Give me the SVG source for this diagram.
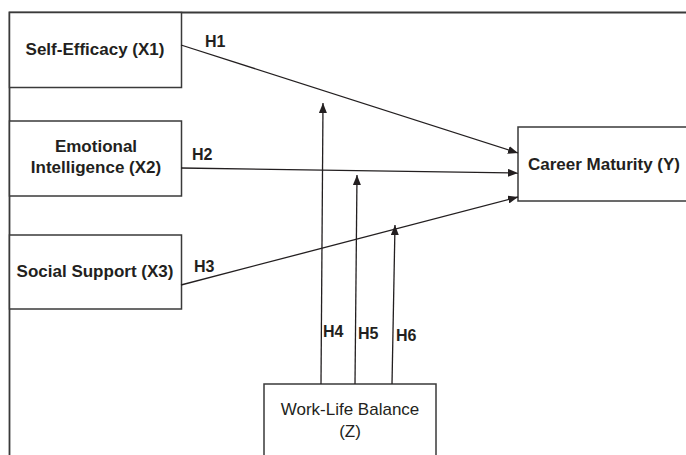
<svg xmlns="http://www.w3.org/2000/svg" width="686" height="455" viewBox="0 0 686 455">
<style>
.box{fill:#fff;stroke:#3a3a3a;stroke-width:1.5}
.frame{fill:none;stroke:#3a3a3a;stroke-width:1.8}
.lbl{font-family:"Liberation Sans",Arial,sans-serif;font-size:17px;font-weight:bold;fill:#231f20;text-anchor:middle}
.reg{font-family:"Liberation Sans",Arial,sans-serif;font-size:17px;fill:#231f20;text-anchor:middle}
.h{font-family:"Liberation Sans",Arial,sans-serif;font-size:16px;font-weight:bold;fill:#231f20}
.con{fill:none;stroke:#231f20;stroke-width:1.3}
</style>
<defs>
<marker id="ah" viewBox="0 0 10 8" refX="10" refY="4" markerWidth="10" markerHeight="8" markerUnits="userSpaceOnUse" orient="auto">
<path d="M0,0 L10,4 L0,8 Z" fill="#231f20"/>
</marker>
</defs>
<rect width="686" height="455" fill="#fff"/>
<path class="frame" d="M9.5,455 V12.5 H686"/>
<g id="x1"><rect class="box" x="9.5" y="12.5" width="172" height="75"/><text class="lbl" x="95" y="55">Self-Efficacy (X1)</text></g>
<g id="x2"><rect class="box" x="9.5" y="121" width="172" height="75"/><text class="lbl" x="96" y="152">Emotional</text><text class="lbl" x="96" y="173">Intelligence (X2)</text></g>
<g id="x3"><rect class="box" x="9.5" y="235" width="172" height="74"/><text class="lbl" x="95" y="277">Social Support (X3)</text></g>
<g id="y"><rect class="box" x="518" y="127" width="170" height="74"/><text class="lbl" x="604" y="170">Career Maturity (Y)</text></g>
<g id="z"><rect class="box" x="264" y="384" width="172" height="80"/><text class="reg" x="350" y="415">Work-Life Balance</text><text class="reg" x="350" y="437">(Z)</text></g>
<g id="connectors">
<line class="con" x1="181" y1="45" x2="518" y2="153" marker-end="url(#ah)"/>
<line class="con" x1="181" y1="168" x2="518" y2="173" marker-end="url(#ah)"/>
<line class="con" x1="181" y1="285" x2="518" y2="197" marker-end="url(#ah)"/>
<line class="con" x1="321" y1="384" x2="323" y2="103" marker-end="url(#ah)"/>
<line class="con" x1="355" y1="384" x2="357" y2="175" marker-end="url(#ah)"/>
<line class="con" x1="392" y1="384" x2="395" y2="225" marker-end="url(#ah)"/>
<text class="h" x="205" y="47">H1</text>
<text class="h" x="192" y="160">H2</text>
<text class="h" x="194" y="272">H3</text>
<text class="h" x="323" y="337">H4</text>
<text class="h" x="358" y="339">H5</text>
<text class="h" x="396" y="341">H6</text>
</g>
</svg>
